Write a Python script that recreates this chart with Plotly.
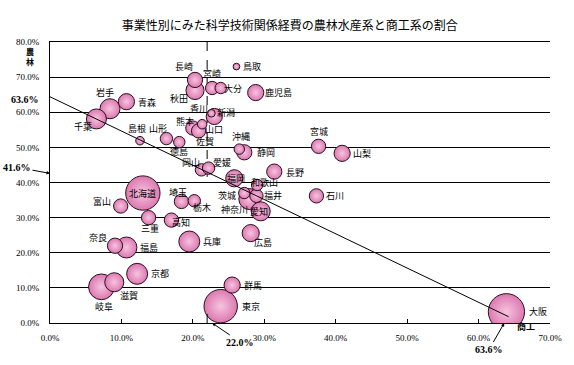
import plotly.graph_objects as go

# ---- data ----
prefs = ["長崎","秋田","宮崎","大分","鳥取","鹿児島","香川","新潟","熊本","山口","佐賀","山形","徳島","島根",
         "岩手","青森","千葉","茨城","神奈川","福井","愛知","和歌山","福岡","長野","石川","宮城","山梨","沖縄",
         "静岡","岡山","愛媛","広島","兵庫","群馬","東京","大阪","北海道","富山","埼玉","栃木","三重","高知",
         "奈良","福島","京都","滋賀","岐阜"]
shoko = [20.3,20.3,22.7,23.9,26.1,28.8,22.6,23.0,20.0,21.3,20.8,16.3,18.1,12.6,
         8.4,10.7,6.5,27.2,27.9,28.9,29.5,29.0,25.8,31.4,37.3,37.6,40.9,26.5,
         27.2,21.2,22.2,28.1,19.5,25.5,23.9,63.9,13.0,9.9,18.4,20.2,13.8,17.0,
         9.1,10.7,12.2,9.0,7.2]
norin = [69.2,66.2,66.9,66.9,73.0,65.6,59.7,58.8,55.5,56.6,54.7,52.5,51.5,51.9,
         61.0,63.0,58.1,37.0,35.3,36.2,31.8,39.3,41.2,43.1,36.2,50.3,48.3,49.5,
         48.6,43.6,44.1,25.6,23.2,10.8,4.8,3.2,37.0,33.3,34.6,34.8,30.0,29.3,
         22.0,21.5,14.0,11.6,10.3]
budget = [256,361,196,144,49,289,64,289,225,100,225,169,144,81,
          441,289,441,144,484,196,400,144,324,256,225,225,289,121,
          256,169,169,324,484,289,1225,1444,1296,225,225,169,225,225,
          256,484,484,400,729]

mean_shoko = 22.0
mean_norin = 41.6
intercept = 63.6
trend_x = [0, 64.2]
trend_y = [64.4, 1.8]

x_ticks = [0, 10, 20, 30, 40, 50, 60, 70]
y_ticks = [0, 10, 20, 30, 40, 50, 60, 70, 80]

# label offsets in pixels (right, up) — styling only
lab_dx = [-11,-16,0,12,16,23,-12,12,-8,12,6,-8,0,-3,
          -5,21,-13,-17,-15,17,-2,7,2,21,19,0,20,2,
          22,-10,13,12,23,21,30,32,0,-19,-3,8,1,10,
          -17,23,23,15,3]
lab_dy = [13,-8,15,0,0,0,5,4,7,-5,-11,10,-9,12,
          16,-1,-8,-2,-10,0,0,2,0,-1,0,15,0,13,
          0,7,6,-9,0,0,0,0,0,5,9,-7,-11,-2,
          8,0,0,-13,-20]

# draw bigger bubbles first
order = sorted(range(len(prefs)), key=lambda i: -budget[i])

fig = go.Figure()

# dashed mean line (beneath bubbles)
fig.add_trace(go.Scatter(x=[mean_shoko, mean_shoko], y=[80, mean_norin], mode="lines",
                         line=dict(color="black", width=1, dash="dash"),
                         hoverinfo="skip", showlegend=False))

fig.add_trace(go.Scatter(
    x=[shoko[i] for i in order], y=[norin[i] for i in order],
    text=[prefs[i] for i in order],
    mode="markers",
    marker=dict(size=[budget[i] for i in order], sizemode="area", sizeref=2.2,
                color="#dc78b0", opacity=1,
                gradient=dict(type="radial", color="#f6c4df"),
                line=dict(color="#2a1020", width=1)),
    hovertemplate="%{text}<extra></extra>", showlegend=False))

# short dashed segment at bottom
fig.add_trace(go.Scatter(x=[mean_shoko, mean_shoko], y=[0, 5], mode="lines",
                         line=dict(color="black", width=1, dash="dash"),
                         hoverinfo="skip", showlegend=False))

# trend line
fig.add_trace(go.Scatter(x=trend_x, y=trend_y, mode="lines",
                         line=dict(color="black", width=1),
                         hoverinfo="skip", showlegend=False))

lab_font = dict(family="Noto Sans CJK JP", size=9, color="black")
for i, p in enumerate(prefs):
    fig.add_annotation(x=shoko[i], y=norin[i], text=p, showarrow=False,
                       xshift=lab_dx[i], yshift=lab_dy[i], font=lab_font)

bold = dict(family="Liberation Sans Narrow", size=10, color="black")
fig.add_annotation(x=0, y=intercept, text="<b>63.6%</b>", showarrow=False,
                   xanchor="right", xshift=-9, font=bold)
fig.add_annotation(x=0, y=mean_norin + 1, text="<b>41.6%</b>", showarrow=True,
                   ax=-33, ay=-6, arrowhead=2, arrowsize=0.7, arrowwidth=1,
                   arrowcolor="black", font=bold)
fig.add_annotation(x=mean_shoko + 0.7, y=0, text="<b>22.0%</b>", showarrow=True,
                   ax=28, ay=19, arrowhead=2, arrowsize=0.7, arrowwidth=1,
                   arrowcolor="black", font=bold)
fig.add_annotation(x=intercept, y=0, text="<b>63.6%</b>", showarrow=True,
                   ax=-15, ay=26, arrowhead=2, arrowsize=0.7, arrowwidth=1,
                   arrowcolor="black", font=bold)
axf = dict(family="Noto Sans CJK JP", size=9, color="black")
fig.add_annotation(x=66.7, y=0, text="<b>商工</b>", showarrow=False, yshift=-3, font=axf)
fig.add_annotation(xref="paper", yref="paper", x=-0.052, y=0.95, yanchor="middle",
                   text="<b>農<br>林</b>", showarrow=False,
                   font=dict(family="Noto Sans CJK JP", size=8, color="black"))

tickf = dict(family="Liberation Sans Narrow", size=9, color="black")
fig.update_layout(
    width=574, height=365,
    margin=dict(l=50, r=22, t=42, b=42),
    paper_bgcolor="white", plot_bgcolor="white",
    title=dict(text="事業性別にみた科学技術関係経費の農林水産系と商工系の割合",
               x=0.505, xanchor="center", y=0.93, yanchor="middle",
               font=dict(family="Noto Sans CJK JP", size=12, color="black")),
    xaxis=dict(range=[0, 70], tickvals=x_ticks, ticktext=[f"{v:.1f}%" for v in x_ticks],
               showgrid=False, zeroline=False, showline=True, linecolor="black",
               linewidth=1, mirror=True, ticks="inside", ticklen=4, tickcolor="black",
               tickfont=tickf, ticklabelstandoff=6),
    yaxis=dict(range=[0, 80], tickvals=y_ticks, ticktext=[f"{v:.1f}%" for v in y_ticks],
               showgrid=True, gridcolor="black", gridwidth=1, zeroline=False,
               showline=True, linecolor="black", linewidth=1, ticks="",
               tickfont=tickf, ticklabelstandoff=8),
)

fig.write_html("out.html", config={"displayModeBar": False},
               post_script="document.body.style.margin='0px';")
